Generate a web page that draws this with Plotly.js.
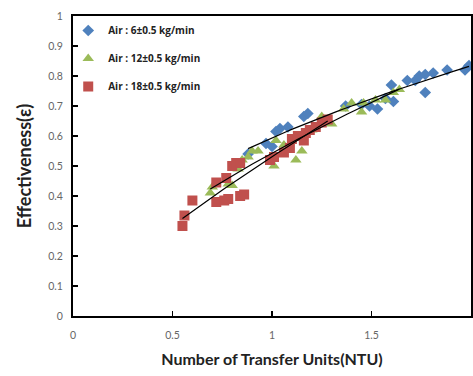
<!DOCTYPE html>
<html>
<head>
<meta charset="utf-8">
<script src="https://cdn.plot.ly/plotly-3.0.1.min.js"></script>
<style>html,body{margin:0;padding:0;background:#fff;}#chart{width:473px;height:376px;}</style>
</head>
<body>
<div id="chart"></div>
<script>
// Air 6 kg/min (blue diamonds)
const air6_x = [0.88,0.97,1.00,1.02,1.04,1.08,1.16,1.18,1.37,1.45,1.49,1.53,1.57,1.60,1.61,1.68,1.72,1.74,1.77,1.77,1.81,1.88,1.97,1.99];
const air6_y = [0.54,0.575,0.565,0.615,0.625,0.63,0.665,0.675,0.70,0.705,0.70,0.69,0.725,0.77,0.715,0.785,0.785,0.80,0.805,0.745,0.81,0.82,0.82,0.835];
// Air 12 kg/min (green triangles)
const air12_x = [0.69,0.70,0.78,0.80,0.83,0.85,0.88,0.90,0.93,0.99,1.01,1.02,1.06,1.12,1.15,1.20,1.25,1.30,1.36,1.40,1.45,1.46,1.52,1.57,1.61,1.64];
const air12_y = [0.41,0.43,0.44,0.435,0.49,0.52,0.53,0.55,0.55,0.52,0.50,0.585,0.57,0.52,0.55,0.62,0.665,0.64,0.69,0.71,0.68,0.71,0.72,0.72,0.745,0.755];
// Air 18 kg/min (red squares)
const air18_x = [0.55,0.56,0.60,0.72,0.76,0.78,0.84,0.86,0.72,0.77,0.80,0.82,0.84,0.99,1.01,1.06,1.09,1.10,1.13,1.16,1.17,1.19,1.22,1.25,1.28];
const air18_y = [0.30,0.335,0.385,0.38,0.385,0.39,0.40,0.405,0.445,0.46,0.50,0.51,0.51,0.52,0.53,0.545,0.56,0.59,0.60,0.585,0.61,0.62,0.63,0.645,0.655];

const seriesNames = ['Air : 6\u00b10.5 kg/min','Air : 12\u00b10.5 kg/min','Air : 18\u00b10.5 kg/min'];
const xTicks = [0,0.5,1,1.5,2];
const xTickText = ['0','0.5','1','1.5','2'];
const yTicks = [0,0.1,0.2,0.3,0.4,0.5,0.6,0.7,0.8,0.9,1];
const yTickText = ['0','0.1','0.2','0.3','0.4','0.5','0.6','0.7','0.8','0.9','1'];

// Power-law trendline (least squares in log space), like a spreadsheet power trendline
function powerFit(xs, ys){
  const n = xs.length;
  let sx=0, sy=0, sxx=0, sxy=0;
  for(let i=0;i<n;i++){const lx=Math.log(xs[i]), ly=Math.log(ys[i]); sx+=lx; sy+=ly; sxx+=lx*lx; sxy+=lx*ly;}
  const b=(n*sxy-sx*sy)/(n*sxx-sx*sx);
  const a=Math.exp((sy-b*sx)/n);
  const xmin=Math.min(...xs), xmax=Math.max(...xs);
  const fx=[], fy=[];
  for(let i=0;i<=40;i++){const x=xmin+(xmax-xmin)*i/40; fx.push(x); fy.push(a*Math.pow(x,b));}
  return {x:fx,y:fy};
}

const colors = ['#4F81BD','#9BBB59','#C0504D'];
const symbols = ['diamond','triangle-up','square'];
const sizes = [9,10,10];
const xs=[air6_x,air12_x,air18_x], ys=[air6_y,air12_y,air18_y];

const data=[];
for(let k=0;k<3;k++){
  data.push({x:xs[k], y:ys[k], type:'scatter', mode:'markers', name:seriesNames[k], legendgroup:'g'+k,
    marker:{color:colors[k], symbol:symbols[k], size:sizes[k], line:{width:0}}});
}
for(let k=0;k<3;k++){
  const f=powerFit(xs[k],ys[k]);
  data.push({x:f.x, y:f.y, type:'scatter', mode:'lines', showlegend:false, hoverinfo:'skip',
    line:{color:'#000', width:1.2}});
}

const axisFont={family:'Lato, "Open Sans", sans-serif', size:10.5, color:'#666'};
const layout={
  width:473, height:376,
  margin:{l:73, r:2, t:16, b:60},
  paper_bgcolor:'#fff', plot_bgcolor:'#fff',
  showlegend:true,
  legend:{x:-0.012, y:1.0, xanchor:'left', yanchor:'top', bgcolor:'rgba(0,0,0,0)',
    font:{family:'"Open Sans", Lato, sans-serif', size:10, color:'#222', weight:'bold'},
    tracegroupgap:9, traceorder:'grouped', itemwidth:30},
  xaxis:{range:[0,2], tickvals:xTicks, ticktext:xTickText, ticks:'inside', ticklen:5, tickwidth:1.5, tickcolor:'#000',
    showline:true, linecolor:'#000', linewidth:2, mirror:true, showgrid:false, zeroline:false,
    tickfont:axisFont, ticklabelstandoff:8,
    title:{text:'Number of Transfer Units(NTU)', font:{family:'Lato, "Open Sans", sans-serif', size:16, color:'#222', weight:'bold'}, standoff:14}},
  yaxis:{range:[0,1], tickvals:yTicks, ticktext:yTickText, ticks:'inside', ticklen:5, tickwidth:1.5, tickcolor:'#000',
    showline:true, linecolor:'#000', linewidth:2, mirror:true, showgrid:false, zeroline:false,
    tickfont:axisFont, ticklabelstandoff:6,
    title:{text:'Effectiveness(\u03b5)', font:{family:'Lato, "Open Sans", sans-serif', size:18, color:'#222', weight:'bold'}, standoff:12}}
};
Plotly.newPlot('chart', data, layout, {displayModeBar:false, staticPlot:true});
</script>
</body>
</html>
